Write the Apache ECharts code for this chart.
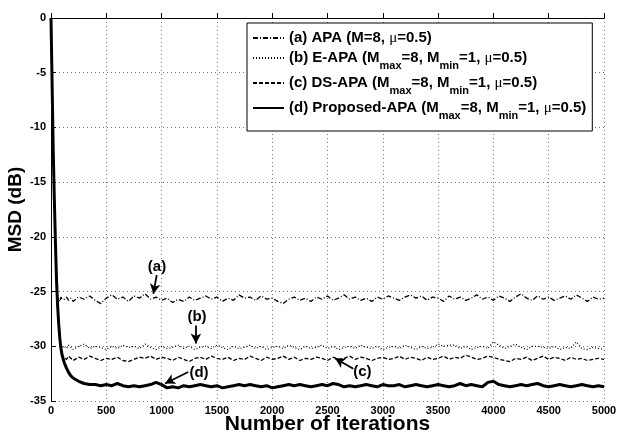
<!DOCTYPE html>
<html>
<head>
<meta charset="utf-8">
<script src="https://cdn.jsdelivr.net/npm/echarts@6/dist/echarts.min.js"></script>
<style>
  html, body { margin: 0; padding: 0; background: #fff; }
  #chart { width: 617px; height: 434px; }
</style>
</head>
<body>
<div id="chart"></div>
<script>
// iteration positions shared by every curve
const iters = [0, 10, 20, 30, 40, 50, 60, 70, 80, 90, 100, 120, 140, 160, 180, 200,
  250, 300, 350, 400, 450, 500, 550, 600, 650, 700, 750, 800, 850, 900, 950, 1000,
  1050, 1100, 1150, 1200, 1250, 1300, 1350, 1400, 1450, 1500, 1550, 1600, 1650, 1700,
  1750, 1800, 1850, 1900, 1950, 2000, 2050, 2100, 2150, 2200, 2250, 2300, 2350, 2400,
  2450, 2500, 2550, 2600, 2650, 2700, 2750, 2800, 2850, 2900, 2950, 3000, 3050, 3100,
  3150, 3200, 3250, 3300, 3350, 3400, 3450, 3500, 3550, 3600, 3650, 3700, 3750, 3800,
  3850, 3900, 3950, 4000, 4050, 4100, 4150, 4200, 4250, 4300, 4350, 4400, 4450, 4500,
  4550, 4600, 4650, 4700, 4750, 4800, 4850, 4900, 4950, 5000];

// (a) APA
const msdA = [0, -6, -12, -16.5, -20.5, -24, -25.8,
  -25.6, -25.9, -25.5, -25.7,
  -25.7, -25.5, -25.8, -25.6, -25.9, -25.5, -25.7, -25.4, -25.8, -26.1,
  -25.6, -25.3, -25.7, -25.5, -25.9, -25.4, -25.6, -25.2, -25.7, -25.5,
  -25.8, -25.6, -26.0, -25.7, -25.9, -25.5, -25.8, -25.6, -25.4, -25.7,
  -25.5, -25.9, -25.6, -25.8, -25.3, -25.6, -25.5, -25.8, -25.4, -25.7,
  -25.6, -25.9, -26.1, -25.7, -25.5, -25.8, -25.6, -25.9, -25.5, -25.7,
  -25.4, -25.8, -25.6, -25.3, -25.7, -25.5, -25.8, -25.6, -25.9, -25.5,
  -25.7, -25.4, -25.6, -25.8, -25.5, -25.3, -25.6, -25.4, -25.8, -25.5,
  -25.6, -25.9, -25.4, -25.7, -25.5, -25.8, -25.6, -25.3, -25.7, -25.5,
  -25.8, -25.4, -25.6, -25.9, -25.5, -25.2, -25.6, -25.8, -25.4, -25.7,
  -25.5, -25.8, -25.6, -25.4, -25.7, -25.3, -25.6, -25.9, -25.5, -25.7,
  -25.6];

// (b) E-APA
const msdB = [0, -6, -12, -16.5, -20.5, -24, -26.3, -28, -29.3, -29.9,
  -30.1,
  -30.0, -30.2, -29.9, -30.1, -30.3, -30.0, -29.8, -30.2, -30.0, -30.1,
  -30.3, -30.0, -30.2, -29.9, -30.1, -30.0, -30.2, -29.8, -30.1, -30.3,
  -30.0, -30.2, -30.1, -29.9, -30.2, -30.0, -30.3, -30.1, -30.0, -30.2,
  -29.9, -30.1, -30.3, -30.0, -30.2, -30.1, -29.9, -30.2, -30.0, -30.3,
  -30.1, -30.0, -30.2, -29.9, -30.1, -30.3, -30.0, -30.2, -30.1, -29.9,
  -30.2, -30.0, -30.3, -30.1, -30.0, -30.2, -29.9, -30.1, -30.2, -30.0,
  -30.3, -30.1, -30.0, -30.2, -29.9, -30.1, -30.3, -30.0, -30.2, -30.1,
  -29.8, -30.0, -29.9, -29.9, -30.2, -30.0, -30.3, -30.1, -30.0, -30.2,
  -29.6, -29.9, -30.2, -30.0, -29.8, -30.1, -30.3, -30.0, -30.0, -30.1,
  -30.2, -30.0, -30.3, -30.1, -30.2, -29.6, -30.2, -30.3, -30.1, -30.2,
  -30.3];

// (c) DS-APA
const msdC = [0, -6, -12, -16.5, -20.5, -24, -26.3, -28, -29.3, -30.2, -30.8,
  -31.0, -31.2, -30.9, -31.1, -31.3, -31.0, -31.2, -30.9, -31.1, -31.3,
  -31.1, -31.2, -31.0, -31.3, -31.4, -31.2, -31.0, -31.1, -30.9, -31.2,
  -31.0, -31.1, -31.3, -31.0, -31.2, -31.4, -31.1, -31.0, -31.2, -30.9,
  -31.1, -31.2, -31.0, -31.3, -31.1, -31.2, -30.9, -31.1, -31.3, -31.0,
  -31.2, -31.1, -30.9, -31.2, -31.0, -31.3, -31.1, -31.2, -31.0, -31.1,
  -31.3, -31.0, -31.2, -31.1, -30.9, -31.2, -31.0, -31.1, -31.3, -31.1,
  -31.0, -31.2, -31.1, -30.9, -31.2, -31.0, -31.1, -31.3, -31.0, -31.2,
  -31.1, -30.9, -31.2, -31.0, -31.1, -30.8, -31.0, -31.2, -31.1, -30.9,
  -31.0, -31.2, -31.3, -31.4, -31.1, -31.2, -31.0, -31.3, -31.1, -30.9,
  -31.2, -31.0, -31.1, -31.3, -31.0, -31.2, -31.1, -31.3, -31.2, -31.1,
  -31.2];

// (d) Proposed-APA
const msdD = [0, -6, -12, -16.5, -20.5, -24, -26.3, -28, -29.3, -30.2, -30.8,
  -31.5, -32, -32.4, -32.7, -32.9,
  -33.2, -33.4, -33.5, -33.5, -33.6, -33.5, -33.6, -33.4, -33.6, -33.7,
  -33.6, -33.7, -33.6, -33.5, -33.3, -33.5, -33.8, -33.7, -33.8, -33.6,
  -33.7, -33.6, -33.5, -33.6, -33.7, -33.6, -33.8, -33.7, -33.6, -33.5,
  -33.6, -33.5, -33.6, -33.7, -33.6, -33.8, -33.7, -33.6, -33.5, -33.6,
  -33.5, -33.6, -33.7, -33.6, -33.5, -33.6, -33.4, -33.5, -33.7, -33.6,
  -33.7, -33.6, -33.5, -33.6, -33.7, -33.5, -33.6, -33.6, -33.5, -33.7,
  -33.6, -33.5, -33.6, -33.7, -33.6, -33.5, -33.6, -33.7, -33.6, -33.4,
  -33.6, -33.5, -33.6, -33.7, -33.3, -33.2, -33.5, -33.6, -33.7, -33.6,
  -33.5, -33.6, -33.5, -33.4, -33.6, -33.7, -33.6, -33.5, -33.6, -33.7,
  -33.6, -33.5, -33.6, -33.7, -33.6, -33.7];

const seriesNames = ['(a)', '(b)', '(c)', '(d)'];
const legendLabels = [
  '(a) APA (M=8, {mu|μ}=0.5)',
  '(b) E-APA (M{sub|max}=8, M{sub|min}=1, {mu|μ}=0.5)',
  '(c) DS-APA (M{sub|max}=8, M{sub|min}=1, {mu|μ}=0.5)',
  '(d) Proposed-APA (M{sub|max}=8, M{sub|min}=1, {mu|μ}=0.5)'
];

// annotation arrows: [from, to] in data coords, and their text
const arrowLines = [
  [[956, -23.5], [925, -25.2]],
  [[1310, -28.1], [1310, -29.75]],
  [[2733, -32.05], [2568, -31.1]],
  [[1241, -32.35], [1031, -33.4]]
];
const arrowTexts = [
  ['(a)', 958, -22.7],
  ['(b)', 1320, -27.3],
  ['(c)', 2816, -32.3],
  ['(d)', 1338, -32.4]
];

const SANS = 'Liberation Sans, Arial, sans-serif';

const pair = vals => iters.map((x, i) => [x, vals[i]]);

const chart = echarts.init(document.getElementById('chart'));

chart.setOption({
  animation: false,
  backgroundColor: '#fff',
  grid: { left: 51, right: 13, top: 18, bottom: 33, outerBoundsMode: 'none', containLabel: false },
  legend: {
    orient: 'vertical',
    left: 247,
    top: 23,
    data: seriesNames,
    backgroundColor: '#fff',
    borderColor: '#000',
    borderWidth: 1,
    borderRadius: 0,
    padding: [7, 6, 10, 5],
    itemGap: 4,
    itemWidth: 31,
    itemHeight: 14,
    selectedMode: false,
    itemStyle: { opacity: 0 },
    formatter: name => legendLabels[seriesNames.indexOf(name)],
    textStyle: {
      fontFamily: SANS,
      fontWeight: 'bold',
      fontSize: 15,
      color: '#000',
      lineHeight: 16,
      rich: {
        // negative bottom padding pushes the subscript below the baseline
        sub: { fontSize: 11, fontWeight: 'bold', verticalAlign: 'bottom',
          padding: [0, 0, -5, 0], fontFamily: SANS, color: '#000' },
        mu: { fontSize: 15, fontWeight: 'normal', fontFamily: 'Liberation Serif, serif', color: '#000' }
      }
    }
  },
  xAxis: {
    type: 'value',
    min: 0,
    max: 5000,
    interval: 500,
    name: 'Number of iterations',
    nameLocation: 'middle',
    nameGap: 13,
    nameMoveOverlap: false,
    nameTextStyle: { fontFamily: SANS, fontWeight: 'bold', fontSize: 21, color: '#000' },
    axisLine: { show: true, lineStyle: { color: '#000', width: 1 } },
    axisTick: { show: true, inside: true, length: 5, lineStyle: { color: '#000' } },
    axisLabel: { fontFamily: SANS, fontWeight: 'bold', fontSize: 11, color: '#000', margin: 4,
      formatter: v => String(v) },
    splitLine: { show: true, lineStyle: { color: '#777', type: [1, 3], width: 1 } }
  },
  yAxis: {
    type: 'value',
    min: -35,
    max: 0,
    interval: 5,
    name: 'MSD (dB)',
    nameLocation: 'middle',
    nameGap: 26,
    nameRotate: 90,
    nameMoveOverlap: false,
    nameTextStyle: { fontFamily: SANS, fontWeight: 'bold', fontSize: 19, color: '#000' },
    axisLine: { show: true, lineStyle: { color: '#000', width: 1 } },
    axisTick: { show: true, inside: true, length: 5, lineStyle: { color: '#000' } },
    axisLabel: { fontFamily: SANS, fontWeight: 'bold', fontSize: 11, color: '#000', margin: 5,
      formatter: v => String(v) },
    splitLine: { show: true, lineStyle: { color: '#777', type: [1, 3], width: 1 } }
  },
  series: [
    {
      name: '(a)', type: 'line', symbol: 'none', data: pair(msdA), z: 3,
      itemStyle: { color: '#000' },
      lineStyle: { color: '#000', width: 1.3, type: [5, 2, 1, 2] }
    },
    {
      name: '(b)', type: 'line', symbol: 'none', data: pair(msdB), z: 3,
      itemStyle: { color: '#000' },
      lineStyle: { color: '#000', width: 1.2, type: [1, 2] }
    },
    {
      name: '(c)', type: 'line', symbol: 'none', data: pair(msdC), z: 3,
      itemStyle: { color: '#000' },
      lineStyle: { color: '#000', width: 1.3, type: [4, 2] }
    },
    {
      name: '(d)', type: 'line', symbol: 'none', data: pair(msdD), z: 4,
      itemStyle: { color: '#000' },
      lineStyle: { color: '#000', width: 3 },
      markLine: {
        silent: true,
        symbol: ['none', 'arrow'],
        symbolSize: [8, 10],
        label: { show: false },
        lineStyle: { color: '#000', width: 1.8, type: 'solid' },
        data: arrowLines.map(([a, b]) => [{ coord: a }, { coord: b }])
      },
      markPoint: {
        silent: true,
        symbol: 'circle',
        symbolSize: 0,
        label: {
          show: true, position: 'inside', color: '#000', fontWeight: 'bold', fontSize: 15,
          fontFamily: SANS,
          formatter: p => p.name
        },
        data: arrowTexts.map(([t, x, y]) => ({ name: t, coord: [x, y] }))
      }
    }
  ]
});
</script>
</body>
</html>
